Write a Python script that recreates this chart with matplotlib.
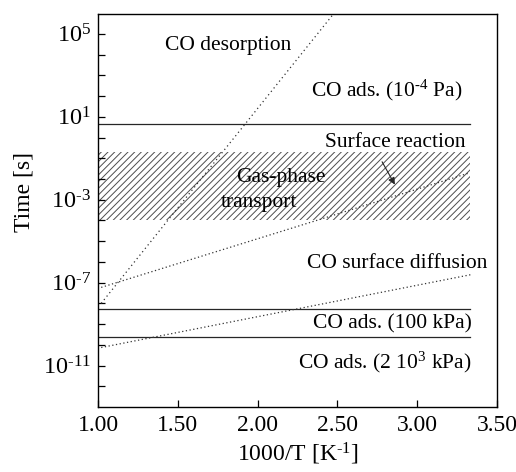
import numpy as np
import matplotlib
matplotlib.use('Agg')
import matplotlib.pyplot as plt

plt.rcParams['font.family'] = ['Liberation Serif', 'DejaVu Serif']
plt.rcParams['mathtext.fontset'] = 'custom'
plt.rcParams['mathtext.rm'] = 'Liberation Serif'
plt.rcParams['mathtext.it'] = 'Liberation Serif:italic'
plt.rcParams['hatch.linewidth'] = 0.7

# time constants vs inverse temperature (log10 of seconds at the end points)
desorp_x = [1.02, 2.50]
desorp_log = [-8.0, 6.2]
reaction_x = [1.02, 3.33]
reaction_log = [-7.23, -1.70]
diffusion_x = [1.02, 3.34]
diffusion_log = [-10.13, -6.61]

# CO adsorption times at three pressures [s]
ads_low = 4.6        # 1e-4 Pa
ads_100kPa = 5.1e-9
ads_2MPa = 2.5e-10
ads_xmax = 3.33

# gas-phase transport band [s]
gas_lo, gas_hi = 1e-4, 0.2

fig = plt.figure(figsize=(5.16, 4.72), dpi=100)
ax = fig.add_axes([98/516, 65/472, 399/516, 393/472])

ax.fill_between([1.0, ads_xmax], gas_lo, gas_hi, facecolor='white',
                edgecolor='0.3', hatch='/////', linewidth=0)

for t in (ads_low, ads_100kPa, ads_2MPa):
    ax.plot([1.0, ads_xmax], [t, t], color='0.15', lw=0.9)

ax.plot(desorp_x, 10**np.array(desorp_log), color='0.2', lw=0.9, ls=(0, (1, 2.5)))
ax.plot(reaction_x, 10**np.array(reaction_log), color='0.2', lw=0.9, ls=(0, (1, 2)))
ax.plot(diffusion_x, 10**np.array(diffusion_log), color='0.2', lw=0.9, ls=(0, (1, 2)))

fs = 15.5
ax.text(1.815, 10**4.2, 'CO desorption', ha='center', va='baseline', fontsize=fs)
ax.text(3.287, 10**1.97, r'CO ads. (10$^{\text{-}4}$ Pa)', ha='right', va='baseline', fontsize=fs)
ax.text(3.30, 10**-0.45, 'Surface reaction', ha='right', va='baseline', fontsize=fs)
ax.text(2.147, 10**-2.13, 'Gas-phase', ha='center', va='baseline', fontsize=fs)
ax.text(2.01, 10**-3.33, 'transport', ha='center', va='baseline', fontsize=fs)
ax.text(3.437, 10**-6.27, 'CO surface diffusion', ha='right', va='baseline', fontsize=fs)
ax.text(3.343, 10**-9.21, 'CO ads. (100 kPa)', ha='right', va='baseline', fontsize=fs)
ax.text(3.343, 10**-11.14, r'CO ads. (2 10$^{3}$ kPa)', ha='right', va='baseline', fontsize=fs)

ax.annotate('', xy=(2.86, 10**-2.27), xytext=(2.78, 10**-1.17),
            arrowprops=dict(arrowstyle='-|>', color='0.15', lw=0.8,
                            mutation_scale=10, shrinkA=0, shrinkB=0))

ax.set_yscale('log')
ax.set_xlim(1.0, 3.5)
ax.set_ylim(1e-13, 10**5.96)

ax.set_xticks([1.0, 1.5, 2.0, 2.5, 3.0, 3.5])
ax.set_xticklabels(['1.00', '1.50', '2.00', '2.50', '3.00', '3.50'])
exps = np.arange(-12, 6)
ax.set_yticks(10.0**exps)
ax.set_yticklabels([r'$10^{\text{%d}}$' % e if (e - 5) % 4 == 0 else '' for e in exps])
ax.minorticks_off()
ax.tick_params(direction='in', length=5, width=0.9, labelsize=17.5, pad=5)
ax.tick_params(axis='x', labelsize=17, pad=6)

for s in ax.spines.values():
    s.set_linewidth(1.0)

ax.set_xlabel(r'1000/T [K$^{\text{-1}}$]', fontsize=17, labelpad=3)
ax.set_ylabel('Time [s]', fontsize=17)
ax.yaxis.set_label_coords(-0.158, 0.547)

fig.savefig('out.png', dpi=100)
